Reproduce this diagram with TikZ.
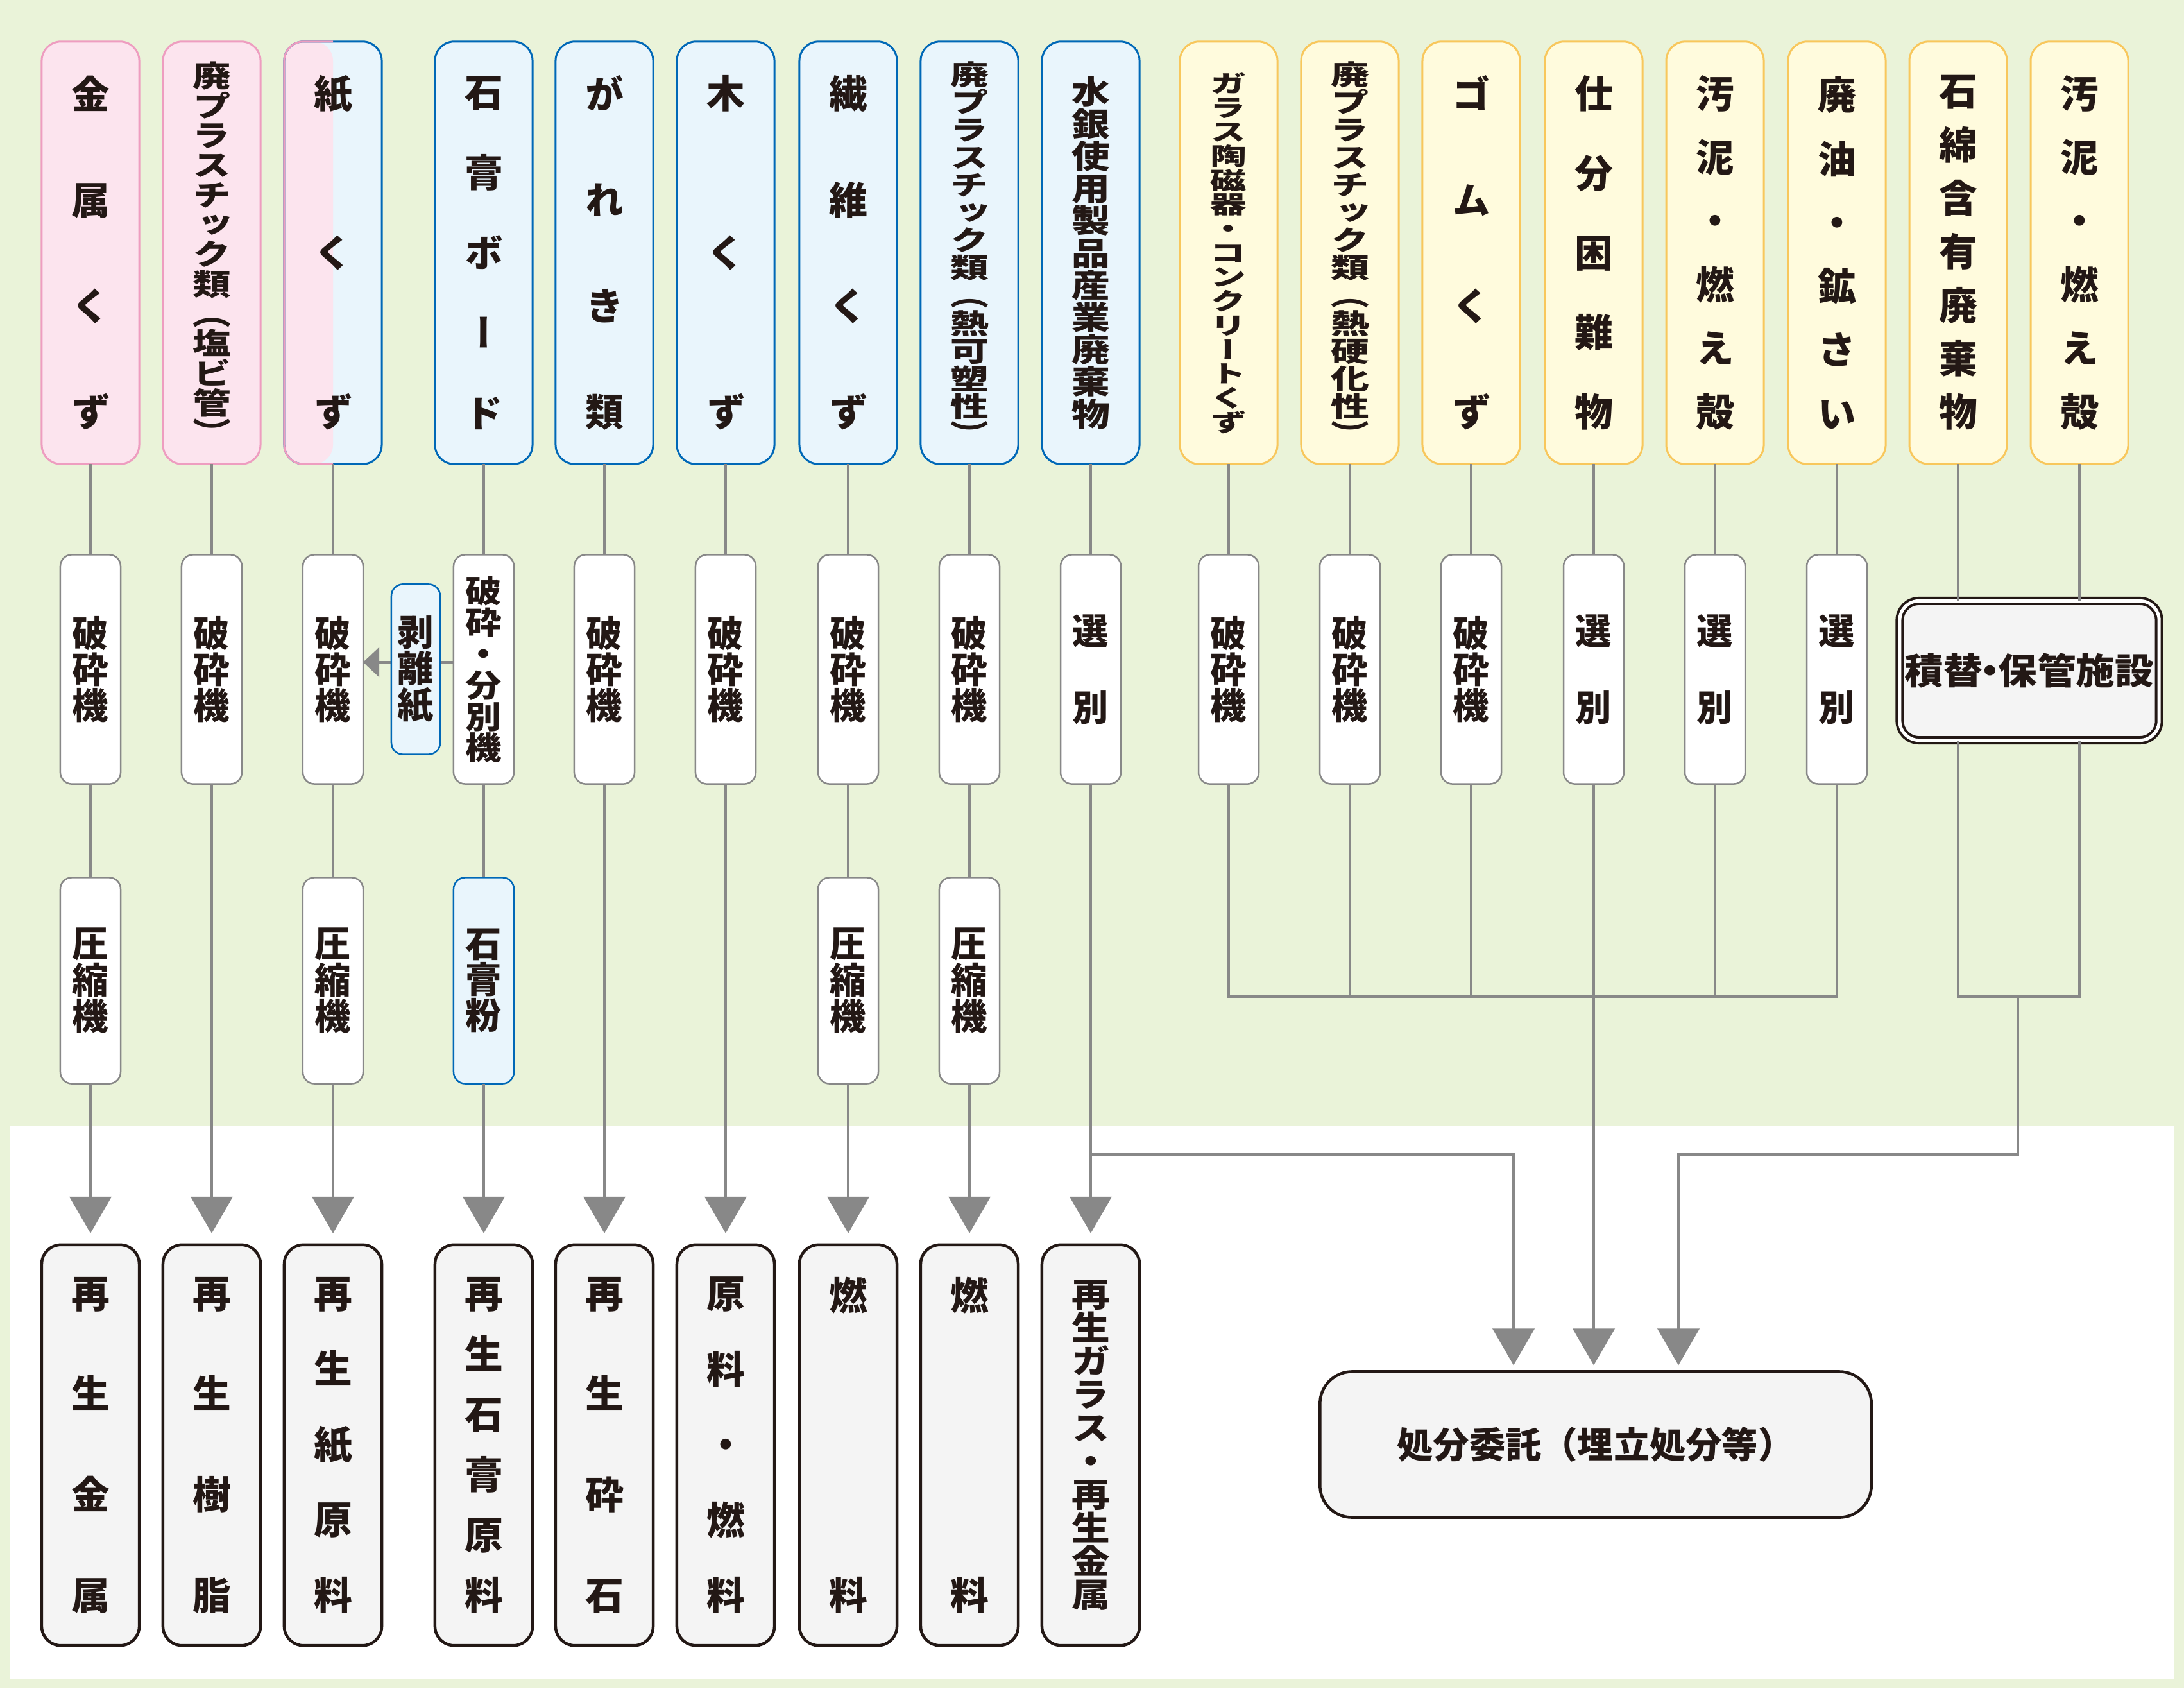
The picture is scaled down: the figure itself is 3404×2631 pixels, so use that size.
\documentclass[tikz,border=0pt]{standalone}
\usepackage{fontspec}
\usepackage{graphicx}
\setmainfont{Noto Sans CJK JP}
\newfontfamily\vjp{Noto Sans CJK JP}[RawFeature=+vert]
\usetikzlibrary{arrows.meta}

\definecolor{bggreen}{HTML}{EAF3D9}
\definecolor{pinkfill}{HTML}{FCE4EE}
\definecolor{pinkline}{HTML}{EE9DC0}
\definecolor{bluefill}{HTML}{E9F5FC}
\definecolor{blueline}{HTML}{0068B7}
\definecolor{yelfill}{HTML}{FFFBDD}
\definecolor{yelline}{HTML}{F8C75C}
\definecolor{connector}{HTML}{888888}
\definecolor{outfill}{HTML}{F4F4F4}
\definecolor{ink}{HTML}{231815}

% vertical writing: tight stack (#1 = vertical squeeze) and spread stack (#1 = height)
\def\vsscale{1}
\newcommand\vstack[2]{\def\vsscale{#1}\vbox{\baselineskip=#1em\lineskiplimit=-10cm\lineskip=0pt\vstacknext#2\relax}}
\def\vstacknext#1{\ifx\relax#1\else\hbox to 1em{\hss\scalebox{1}[\vsscale]{#1}\hss}\expandafter\vstacknext\fi}
\newcommand\vspread[2]{\vbox to #1{\vspreadfirst#2\relax}}
\def\vspreadfirst#1{\hbox to 1em{\hss#1\hss}\vspreadnext}
\def\vspreadnext#1{\ifx\relax#1\else\vfill\hbox to 1em{\hss#1\hss}\expandafter\vspreadnext\fi}

\begin{document}
\begin{tikzpicture}[
  x=0.01cm, y=-0.01cm,
  every node/.style={inner sep=0pt, outer sep=0pt, text=ink},
  src/.style={rectangle, rounded corners=0.3cm, line width=0.03cm, minimum width=1.52cm,
              minimum height=6.58cm, font=\vjp\bfseries\fontsize{17pt}{20pt}\selectfont},
  pinkbox/.style={src, draw=pinkline, fill=pinkfill},
  bluebox/.style={src, draw=blueline, fill=bluefill},
  yelbox/.style={src, draw=yelline, fill=yelfill},
  proc/.style={rectangle, rounded corners=0.18cm, draw=connector, fill=white, line width=0.025cm,
               minimum width=0.94cm, minimum height=3.57cm, font=\vjp\bfseries\fontsize{16pt}{19pt}\selectfont},
  proc2/.style={proc, minimum height=3.21cm},
  prod/.style={rectangle, rounded corners=0.3cm, draw=ink, fill=outfill, line width=0.045cm,
               minimum width=1.52cm, minimum height=6.24cm, font=\vjp\bfseries\fontsize{17pt}{20pt}\selectfont},
  link/.style={draw=connector, line width=0.04cm},
  arr/.style={link, -{Triangle[width=0.65cm, length=0.57cm]}, shorten >=0.18cm},
  arr2/.style={link, -{Triangle[width=0.65cm, length=0.57cm]}, shorten >=0.1cm}
]
\path[use as bounding box, fill=bggreen] (0,0) rectangle (3404,2631);
\fill[white] (15,1755) rectangle (3389,2617);

% waste categories
\node[pinkbox] (t1) at (141,394) {\vspread{5.47cm}{金属くず}};
\node[pinkbox] (t2) at (330,394) {\vstack{0.775}{廃プラスチック類（塩ビ管）}};
\node[bluebox, path picture={\fill[pinkfill] (path picture bounding box.south west)
      rectangle (path picture bounding box.north);}] (t3) at (519,394) {\vspread{5.47cm}{紙くず}};
\begin{scope}
  \clip ([shift={(-0.2cm,0.2cm)}]t3.north west) rectangle ([yshift=-0.2cm]t3.south);
  \draw[pinkline, line width=0.03cm, rounded corners=0.3cm] (t3.south west) rectangle (t3.north east);
\end{scope}
\node[bluebox] (t4) at (754,394) {\vspread{5.47cm}{石膏ボード}};
\node[bluebox] (t5) at (942,394) {\vspread{5.47cm}{がれき類}};
\node[bluebox] (t6) at (1131,394) {\vspread{5.47cm}{木くず}};
\node[bluebox] (t7) at (1322,394) {\vspread{5.47cm}{繊維くず}};
\node[bluebox] (t8) at (1511,394) {\vstack{0.72}{廃プラスチック類（熱可塑性）}};
\node[bluebox] (t9) at (1700,394) {\vstack{0.84}{水銀使用製品産業廃棄物}};
\node[yelbox, font=\vjp\bfseries\fontsize{16pt}{19pt}\selectfont] (t10) at (1915,394)
      {\vstack{0.67}{ガラス陶磁器・コンクリートくず}};
\node[yelbox] (t11) at (2104,394) {\vstack{0.72}{廃プラスチック類（熱硬化性）}};
\node[yelbox] (t12) at (2293,394) {\vspread{5.47cm}{ゴムくず}};
\node[yelbox] (t13) at (2484,394) {\vspread{5.47cm}{仕分困難物}};
\node[yelbox] (t14) at (2673,394) {\vspread{5.47cm}{汚泥・燃え殻}};
\node[yelbox] (t15) at (2863,394) {\vspread{5.47cm}{廃油・鉱さい}};
\node[yelbox] (t16) at (3052,394) {\vspread{5.47cm}{石綿含有廃棄物}};
\node[yelbox] (t17) at (3241,394) {\vspread{5.47cm}{汚泥・燃え殻}};

% first treatment
\node[proc] (p1) at (141,1043) {\vstack{1}{破砕機}};
\node[proc] (p2) at (330,1043) {\vstack{1}{破砕機}};
\node[proc] (p3) at (519,1043) {\vstack{1}{破砕機}};
\node[proc] (p4) at (754,1043) {\vstack{0.87}{破砕・分別機}};
\node[proc] (p5) at (942,1043) {\vstack{1}{破砕機}};
\node[proc] (p6) at (1131,1043) {\vstack{1}{破砕機}};
\node[proc] (p7) at (1322,1043) {\vstack{1}{破砕機}};
\node[proc] (p8) at (1511,1043) {\vstack{1}{破砕機}};
\node[proc] (p9) at (1700,1043) {\vspread{1.66cm}{選別}};
\node[proc] (p10) at (1915,1043) {\vstack{1}{破砕機}};
\node[proc] (p11) at (2104,1043) {\vstack{1}{破砕機}};
\node[proc] (p12) at (2293,1043) {\vstack{1}{破砕機}};
\node[proc] (p13) at (2484,1043) {\vspread{1.66cm}{選別}};
\node[proc] (p14) at (2673,1043) {\vspread{1.66cm}{選別}};
\node[proc] (p15) at (2863,1043) {\vspread{1.66cm}{選別}};
\draw[link, -{Triangle[width=0.46cm, length=0.25cm]}] ([yshift=0.11cm]p4.west) -- ([yshift=0.11cm]p3.east);
\node[proc, draw=blueline, fill=bluefill, minimum width=0.76cm, minimum height=2.65cm] (hakuri)
      at (648,1043) {\vstack{1}{剥離紙}};
\node[rectangle, rounded corners=0.3cm, draw=ink, double=white, double distance=0.05cm, line width=0.04cm,
      fill=outfill, minimum width=4.04cm, minimum height=2.17cm, font=\bfseries\fontsize{16pt}{19pt}\selectfont]
      (tsumikae) at (3163,1045) {\scalebox{1.08}[1]{積替\kern-0.3em・\kern-0.3em保管施設}};

% second treatment
\node[proc2] (q1) at (141,1528) {\vstack{1}{圧縮機}};
\node[proc2] (q3) at (519,1528) {\vstack{1}{圧縮機}};
\node[proc2, draw=blueline, fill=bluefill] (q4) at (754,1528) {\vstack{1}{石膏粉}};
\node[proc2] (q7) at (1322,1528) {\vstack{1}{圧縮機}};
\node[proc2] (q8) at (1511,1528) {\vstack{1}{圧縮機}};

% recycled products and disposal
\node[prod] (r1) at (141,2252) {\vspread{5.18cm}{再生金属}};
\node[prod] (r2) at (330,2252) {\vspread{5.18cm}{再生樹脂}};
\node[prod] (r3) at (519,2252) {\vspread{5.18cm}{再生紙原料}};
\node[prod] (r4) at (754,2252) {\vspread{5.18cm}{再生石膏原料}};
\node[prod] (r5) at (942,2252) {\vspread{5.18cm}{再生砕石}};
\node[prod] (r6) at (1131,2252) {\vspread{5.18cm}{原料・燃料}};
\node[prod] (r7) at (1322,2252) {\vspread{5.18cm}{燃料}};
\node[prod] (r8) at (1511,2252) {\vspread{5.18cm}{燃料}};
\node[prod] (r9) at (1700,2252) {\vstack{0.87}{再生ガラス・再生金属}};
\node[rectangle, rounded corners=0.5cm, draw=ink, fill=outfill, line width=0.045cm, minimum width=8.59cm,
      minimum height=2.27cm, font=\bfseries\fontsize{16pt}{19pt}\selectfont]
      (shobun) at (2487,2251) {処分委託（埋立処分等）};

\coordinate (g10) at (1915,1553);
\coordinate (g15) at (2863,1553);
\coordinate (g16) at (3052,1553);
\coordinate (g17) at (3241,1553);
\coordinate (g0) at (3145,1553);
\coordinate (h0) at (3145,1799);
\coordinate (h1) at (2616,1799);
\coordinate (b9) at (1700,1799);
\coordinate (c9) at (2359,1799);

\foreach \i in {1,...,15} \draw[link] (t\i) -- (p\i);
\foreach \i in {1,3,4,7,8} \draw[link] (p\i) -- (q\i);
\foreach \i in {1,3,4,7,8} \draw[arr] (q\i) -- (r\i);
\foreach \i in {2,5,6,9} \draw[arr] (p\i) -- (r\i);
\draw[arr2] (b9) -- (c9) -- (c9 |- shobun.north);
\draw[link] (p10) -- (g10) -- (g15) -- (p15);
\foreach \i in {11,12,14} \draw[link] (p\i) -- (p\i |- g10);
\draw[arr2] (p13) -- (p13 |- shobun.north);
\draw[link] (t16) -- (t16 |- tsumikae.north);
\draw[link] (t17) -- (t17 |- tsumikae.north);
\draw[link] (tsumikae.south -| t16) -- (g16) -- (g17) -- (tsumikae.south -| t17);
\draw[arr2] (g0) -- (h0) -- (h1) -- (h1 |- shobun.north);
\end{tikzpicture}
\end{document}
